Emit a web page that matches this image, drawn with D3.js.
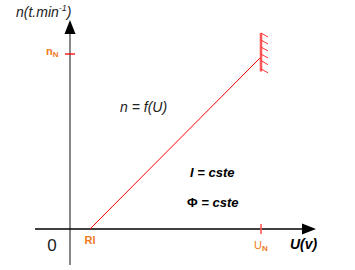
<!DOCTYPE html>
<html><head><meta charset="utf-8">
<script src="https://cdn.jsdelivr.net/npm/d3@7"></script>
<style>body{margin:0;background:#fff}svg{display:block}text{font-family:Arial,"Liberation Sans",sans-serif}</style>
</head><body>
<svg id="c" width="355" height="270"></svg>
<script>
// data
const lineU = [0.105, 1.0];      // U values of the characteristic (Rl -> UN)
const lineN = [0.0, 0.983];      // n values
const uTicks = [1.0];            // UN
const uTickLabels = ["U", "N"];
const nTicks = [1.0];            // nN
const nTickLabels = ["n", "N"];
const startLabel = "Rl";
const hatchN = [1.12, 1.08, 1.04, 1.0, 0.962, 0.915];

const svg = d3.select("#c");
const x = d3.scaleLinear().domain([0, 1]).range([70, 261]);
const y = d3.scaleLinear().domain([0, 1]).range([229, 54]);

// y axis
svg.append("line").attr("x1",x(0)).attr("x2",x(0)).attr("y1",265).attr("y2",33)
  .attr("stroke","#888").attr("stroke-width",2);
svg.append("path").attr("d",`M${x(0)},20 L${x(0)-5.5},34 L${x(0)+5.5},34 Z`).attr("fill","#000");
// x axis
svg.append("line").attr("x1",35).attr("x2",303).attr("y1",y(0)).attr("y2",y(0))
  .attr("stroke","#000").attr("stroke-width",1.3);
svg.append("path").attr("d",`M316,${y(0)} L302,${y(0)-5.5} L302,${y(0)+5.5} Z`).attr("fill","#000");

// ticks
uTicks.forEach(u=>{
  svg.append("line").attr("x1",x(u)).attr("x2",x(u)).attr("y1",y(0)-5).attr("y2",y(0)+5)
    .attr("stroke","#f55").attr("stroke-width",1.6);
});
nTicks.forEach(n=>{
  svg.append("line").attr("x1",x(0)-5).attr("x2",x(0)+5).attr("y1",y(n)).attr("y2",y(n))
    .attr("stroke","#f00").attr("stroke-width",1.3);
});

// characteristic line
svg.append("path").datum(lineU.map((u,i)=>[u,lineN[i]]))
  .attr("d", d3.line().x(d=>x(d[0])).y(d=>y(d[1])))
  .attr("stroke","#f00").attr("stroke-width",1).attr("fill","none");

// hatch (stop)
svg.append("line").attr("x1",x(1)).attr("x2",x(1)).attr("y1",y(1.12)).attr("y2",y(0.9))
  .attr("stroke","#f55").attr("stroke-width",2.5);
hatchN.forEach(n=>{
  svg.append("line").attr("x1",x(1)).attr("y1",y(n)).attr("x2",x(1)+7).attr("y2",y(n)+4)
    .attr("stroke","#f33").attr("stroke-width",1);
});

// labels
const orange = "#f07820";
svg.append("text").attr("x",52).attr("y",251).attr("font-size",17).attr("text-anchor","middle").attr("fill","#222").text("0");
svg.append("text").attr("x",x(lineU[0])).attr("y",244).attr("font-size",11).attr("font-weight","bold")
  .attr("text-anchor","middle").attr("fill",orange).text(startLabel);
const ul = svg.append("text").attr("x",x(uTicks[0])-7).attr("y",249).attr("font-size",11).attr("fill",orange);
ul.append("tspan").text(uTickLabels[0]);
ul.append("tspan").attr("font-size",8).attr("font-weight","bold").attr("dy",2).text(uTickLabels[1]);
const nl = svg.append("text").attr("x",46).attr("y",55).attr("font-size",11).attr("font-weight","bold").attr("fill",orange);
nl.append("tspan").text(nTickLabels[0]);
nl.append("tspan").attr("font-size",8).attr("dy",2).text(nTickLabels[1]);

svg.append("text").attr("x",290).attr("y",249).attr("font-size",14).attr("font-weight","bold").attr("font-style","italic")
  .attr("fill","#000").text("U(v)");
const yt = svg.append("text").attr("x",16).attr("y",17).attr("font-size",14).attr("font-style","italic").attr("fill","#222");
yt.append("tspan").text("n(t.min");
yt.append("tspan").attr("font-size",9).attr("dy",-6).text("-1");
yt.append("tspan").attr("dy",6).text(")");

svg.append("text").attr("x",120).attr("y",112).attr("font-size",14).attr("font-style","italic").attr("fill","#222").text("n = f(U)");
svg.append("text").attr("x",190).attr("y",177).attr("font-size",13).attr("font-weight","bold").attr("font-style","italic").attr("fill","#000").text("I = cste");
const phi = svg.append("text").attr("x",187).attr("y",207).attr("font-size",13).attr("font-weight","bold").attr("fill","#000");
phi.append("tspan").text("Φ");
phi.append("tspan").attr("font-style","italic").text(" = cste");
</script>
</body></html>
